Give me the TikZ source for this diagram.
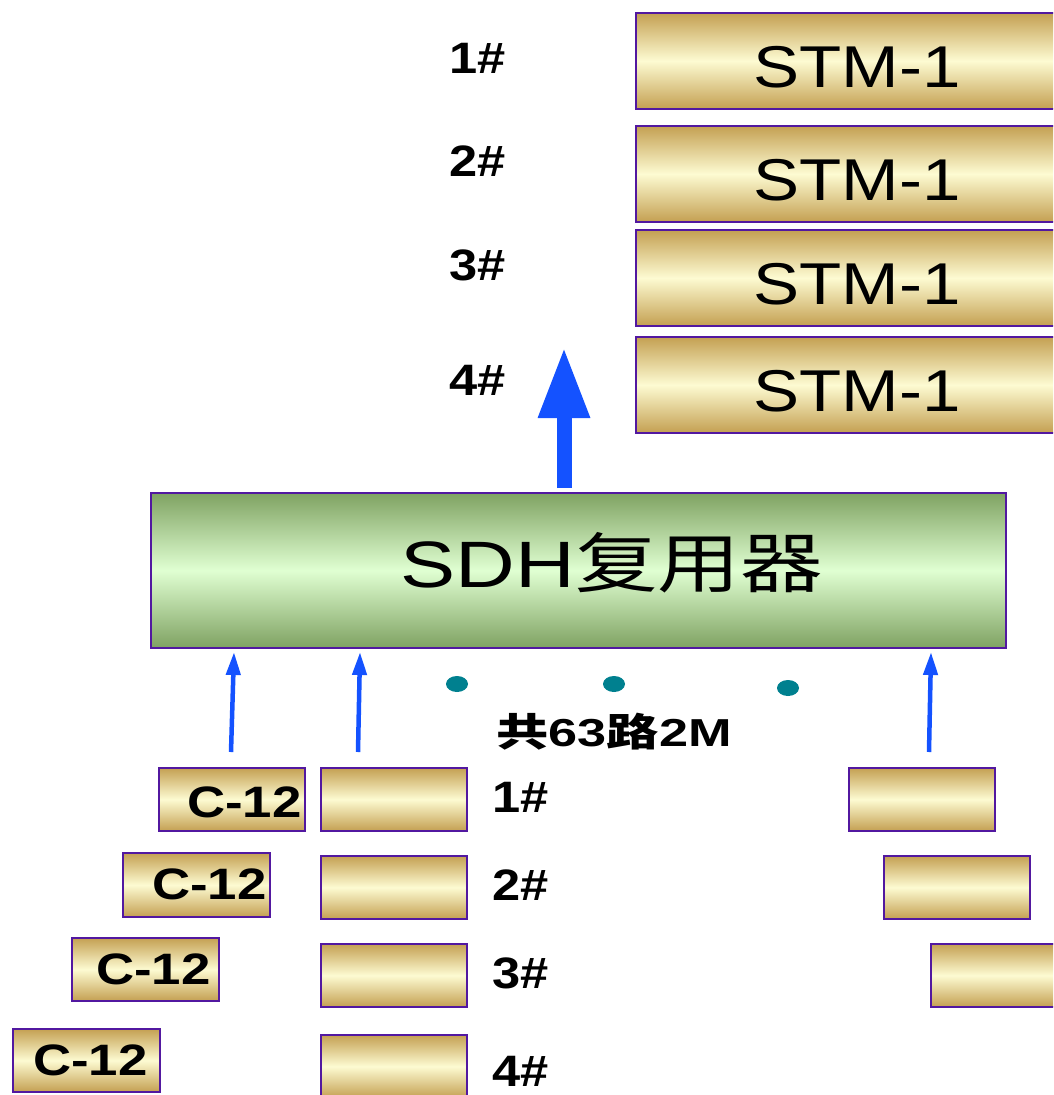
\documentclass[tikz,border=0pt]{standalone}
\usepackage{fontspec}
\setmainfont{Liberation Sans}
\newfontfamily\cjk{Noto Sans CJK SC}
\usetikzlibrary{arrows.meta,shapes.geometric}
\definecolor{gold}{HTML}{C4A052}
\definecolor{goldlight}{HTML}{FDFBD2}
\definecolor{grn}{HTML}{7FA262}
\definecolor{grnlight}{HTML}{E0FFD2}
\definecolor{edgeclr}{HTML}{5218A0}
\definecolor{arrowblue}{HTML}{1452FF}
\definecolor{dotteal}{HTML}{00808F}
\newcommand\hstretch[2]{\scalebox{#1}[1]{#2}}
\tikzset{
  goldbox/.style={draw=edgeclr, line width=1.8pt, top color=gold, bottom color=gold, middle color=goldlight, inner sep=0pt, anchor=north west},
  greenbox/.style={draw=edgeclr, line width=1.8pt, top color=grn, bottom color=grn, middle color=grnlight, inner sep=0pt, anchor=north west},
  stmtxt/.style={font=\fontsize{59}{61}\selectfont, inner sep=0pt},
  sdhtxt/.style={font=\fontsize{65.6}{68}\selectfont, inner sep=0pt},
  numtxt/.style={font=\bfseries\fontsize{44}{46}\selectfont, inner sep=0pt},
  ctxt/.style={font=\bfseries\fontsize{44}{46}\selectfont, inner sep=0pt, anchor=west},
  totaltxt/.style={font=\bfseries\fontsize{39}{41}\selectfont, inner sep=0pt},
  dotst/.style={ellipse, fill=dotteal, minimum width=22pt, minimum height=16pt, inner sep=0pt},
  smallarr/.style={draw=arrowblue, line width=4.5pt, -{Triangle[length=23pt,width=14pt]}, arrowblue},
  bigarr/.style={draw=arrowblue, line width=15pt, -{Triangle[length=71pt,width=48pt]}, arrowblue},
}
\begin{document}
\begin{tikzpicture}[x=1pt,y=-1pt]
\useasboundingbox (0,0) rectangle (1053,1095);
\clip (0,0) rectangle (1053,1095);
% STM-1 boxes
\node[goldbox, minimum width=444pt, minimum height=96pt] (s1) at (635,12) {};
\node[goldbox, minimum width=444pt, minimum height=96pt] (s2) at (635,125) {};
\node[goldbox, minimum width=444pt, minimum height=96pt] (s3) at (635,229) {};
\node[goldbox, minimum width=444pt, minimum height=96pt] (s4) at (635,336) {};
\node[stmtxt] (t1) at (857,67) {\hstretch{1.17}{STM-1}};
\node[stmtxt] (t2) at (857,180) {\hstretch{1.17}{STM-1}};
\node[stmtxt] (t3) at (857,284) {\hstretch{1.17}{STM-1}};
\node[stmtxt] (t4) at (857,391) {\hstretch{1.17}{STM-1}};
\node[numtxt] (n1) at (478,58) {\hstretch{1.15}{1\#}};
\node[numtxt] (n2) at (478,161) {\hstretch{1.15}{2\#}};
\node[numtxt] (n3) at (478,265) {\hstretch{1.15}{3\#}};
\node[numtxt] (n4) at (478,380) {\hstretch{1.15}{4\#}};
% big arrow
\coordinate (bs) at (564,488);
\coordinate (be) at (564,347);
\draw[bigarr] (bs) -- (be);
% SDH box
\node[greenbox, minimum width=855pt, minimum height=155pt] (sdh) at (150,492) {};
\node[sdhtxt] (sdht) at (612,563) {\hstretch{1.26}{SDH{\cjk 复用器}}};
% small arrows
\coordinate (a1s) at (231,752); \coordinate (a1e) at (234,652);
\coordinate (a2s) at (358,752); \coordinate (a2e) at (360,652);
\coordinate (a3s) at (929,752); \coordinate (a3e) at (931,652);
\draw[smallarr] (a1s) -- (a1e);
\draw[smallarr] (a2s) -- (a2e);
\draw[smallarr] (a3s) -- (a3e);
% dots
\node[dotst] (d1) at (457,684) {};
\node[dotst] (d2) at (614,684) {};
\node[dotst] (d3) at (788,688) {};
\node[totaltxt] (tot) at (614,732) {\hstretch{1.34}{{\cjk 共}63{\cjk 路}2M}};
% C-12 boxes
\node[goldbox, minimum width=146pt, minimum height=63pt] (c1) at (158,767) {};
\node[goldbox, minimum width=147pt, minimum height=64pt] (c2) at (122,852) {};
\node[goldbox, minimum width=147pt, minimum height=63pt] (c3) at (71,937) {};
\node[goldbox, minimum width=147pt, minimum height=63pt] (c4) at (12,1028) {};
\node[ctxt] (ct1) at (187,802) {\hstretch{1.2}{C-12}};
\node[ctxt] (ct2) at (152,884) {\hstretch{1.2}{C-12}};
\node[ctxt] (ct3) at (96,969) {\hstretch{1.2}{C-12}};
\node[ctxt] (ct4) at (33,1060) {\hstretch{1.2}{C-12}};
% middle column
\node[goldbox, minimum width=146pt, minimum height=63pt] (m1) at (320,767) {};
\node[goldbox, minimum width=146pt, minimum height=63pt] (m2) at (320,855) {};
\node[goldbox, minimum width=146pt, minimum height=63pt] (m3) at (320,943) {};
\node[goldbox, minimum width=146pt, minimum height=63pt] (m4) at (320,1034) {};
\node[numtxt] (l1) at (521,797) {\hstretch{1.15}{1\#}};
\node[numtxt] (l2) at (521,885) {\hstretch{1.15}{2\#}};
\node[numtxt] (l3) at (521,973) {\hstretch{1.15}{3\#}};
\node[numtxt] (l4) at (521,1071) {\hstretch{1.15}{4\#}};
% right column
\node[goldbox, minimum width=146pt, minimum height=63pt] (r1) at (848,767) {};
\node[goldbox, minimum width=146pt, minimum height=63pt] (r2) at (883,855) {};
\node[goldbox, minimum width=146pt, minimum height=63pt] (r3) at (930,943) {};
\end{tikzpicture}
\end{document}
